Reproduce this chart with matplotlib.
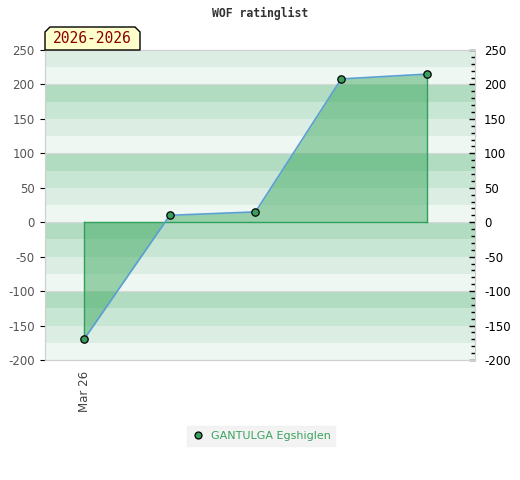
import numpy as np
import matplotlib.pyplot as plt
from matplotlib.patches import Polygon
from matplotlib.ticker import MultipleLocator
from matplotlib.lines import Line2D

plt.rcParams["axes.unicode_minus"] = False

# data
dates = ["Mar 26", "", "", "", ""]
rating = [-170, 10, 15, 208, 215]
player = "GANTULGA Egshiglen"
period = "2026-2026"

band_cols = ["#b2dcc2", "#c8e6d4", "#dcede3", "#eef7f1"]   # top -> bottom in each 100 block

fig = plt.figure(figsize=(5.2, 4.8), dpi=100)
ax = fig.add_axes([45 / 520, 120 / 480, 430 / 520, 310 / 480])

x = np.arange(len(rating))
ax.set_xlim(-0.455, 4.56)
ax.set_ylim(-200, 250)

# stripe background
for top in range(300, -200, -100):
    for k, c in enumerate(band_cols):
        hi = top - 25 * k
        ax.axhspan(hi - 25, hi, color=c, lw=0, zorder=0)
for g in range(-100, 300, 100):
    ax.axhline(g, color="#d8d8d8", lw=0.8, zorder=0.5)

# area to zero
y = np.array(rating, dtype=float)
ax.fill_between(x, 0, y, color="#3ba65d", alpha=0.48, lw=0, zorder=1)
ax.plot([x[0], x[0]], [0, y[0]], color="#2ea05a", lw=1, zorder=2)
ax.plot([x[-1], x[-1]], [0, y[-1]], color="#2ea05a", lw=1, zorder=2)
ax.plot([x[0], x[-1]], [0, 0], color="#2ea05a", lw=1, zorder=2)
ax.plot(x, y, color="#5a9fd4", lw=1.2, zorder=3)
ax.plot(x, y, "o", ms=5.3, mfc="#3a9e5f", mec="black", mew=0.9, zorder=4)

# axes styling
for s in ax.spines.values():
    s.set_color("#d0d0d0")
ax.yaxis.set_major_locator(MultipleLocator(50))
ax.tick_params(axis="y", left=False, labelsize=8.5, labelcolor="#555555", pad=4)
ax.set_xticks([0])
ax.set_xticklabels([dates[0]], rotation=90, fontsize=8.5, color="#444444")
ax.tick_params(axis="x", length=0, pad=8)

ax2 = ax.twinx()
ax2.set_ylim(ax.get_ylim())
ax2.yaxis.set_major_locator(MultipleLocator(50))
ax2.yaxis.set_minor_locator(MultipleLocator(10))
ax2.tick_params(axis="y", which="major", direction="in", length=4, width=1,
                labelsize=8.5, labelcolor="black", pad=6.5)
ax2.tick_params(axis="y", which="minor", direction="in", length=3, width=1)
for s in ax2.spines.values():
    s.set_color("#d0d0d0")

fig.text(0.5, 1 - 13 / 480, "WOF ratinglist", ha="center", va="center",
         family="DejaVu Sans Mono", fontweight="bold", fontsize=8.3, color="#333333")

# period badge with chamfered top corners
bx0, bx1, by0, by1, ch = 45, 140, 480 - 50, 480 - 27, 5
pts = [(bx0, by0), (bx0, by1 - ch), (bx0 + ch, by1), (bx1 - ch, by1), (bx1, by1 - ch), (bx1, by0)]
pts = [(px / 520, py / 480) for px, py in pts]
fig.patches.append(Polygon(pts, closed=True, transform=fig.transFigure,
                           fc="#ffffcc", ec="black", lw=1, zorder=5))
fig.text((bx0 + bx1) / 2 / 520, (by0 + by1) / 2 / 480, period, ha="center", va="center",
         family="DejaVu Sans Mono", fontsize=10.5, color="#8b0000", zorder=6)

handle = Line2D([], [], ls="none", marker="o", ms=5, mfc="#3a9e5f", mec="black", mew=0.9)
leg = fig.legend([handle], [player], loc="center", bbox_to_anchor=(261 / 520, 1 - 436 / 480),
                 frameon=True, fontsize=8, handletextpad=0.5, borderpad=0.45,
                 handlelength=1.2, labelcolor="#3aa35f", fancybox=False)
leg.get_frame().set_facecolor("#f0f0f0")
leg.get_frame().set_edgecolor("#f0f0f0")

fig.savefig("out.png", dpi=100)
